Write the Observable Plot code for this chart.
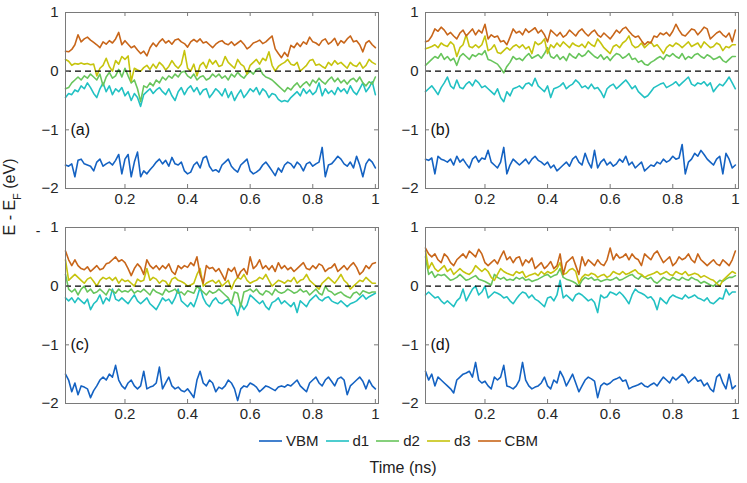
<!DOCTYPE html>
<html>
<head>
<meta charset="utf-8">
<script src="https://cdn.jsdelivr.net/npm/d3@7"></script>
<script src="https://cdn.jsdelivr.net/npm/@observablehq/plot@0.6"></script>
<style>
  body { margin: 0; background: #fff; }
  #wrap { position: relative; width: 747px; height: 483px; font-family: 'Liberation Sans', Arial, sans-serif; }
  .pnl { position: absolute; }
  #legend { position: absolute; left: 259px; top: 432px; display: flex; align-items: center; font-size: 15px; color: #222; }
  #legend .it { display: flex; align-items: center; margin-right: 7px; }
  #legend svg { margin-right: 4px; }
  #xlab { position: absolute; left: 0; width: 806px; top: 459px; text-align: center; font-size: 16px; color: #222; }
  #overlay { position: absolute; left: 0; top: 0; pointer-events: none; }
</style>
</head>
<body>
<div id="wrap"></div>
<script>
// ---------- data ----------
const times = d3.range(1, 101).map(k => k / 100); // time grid, ns
const seriesNames = ["VBM", "d1", "d2", "d3", "CBM"];
const seriesColors = ["#1462c2", "#22c1c3", "#68c55c", "#c6c40e", "#c8661a"];
const xTicks = [0.2, 0.4, 0.6, 0.8, 1];
const yTicks = [-2, -1, 0, 1];
const panelLabels = ["(a)", "(b)", "(c)", "(d)"];

// panel (a)
const vbmA = [-1.60,-1.62,-1.58,-1.80,-1.52,-1.50,-1.58,-1.60,-1.62,-1.70,
  -1.55,-1.50,-1.62,-1.58,-1.55,-1.60,-1.52,-1.42,-1.75,-1.50,
  -1.42,-1.80,-1.55,-1.38,-1.80,-1.70,-1.75,-1.68,-1.62,-1.55,
  -1.50,-1.58,-1.52,-1.62,-1.47,-1.58,-1.60,-1.55,-1.70,-1.75,
  -1.72,-1.60,-1.55,-1.65,-1.48,-1.45,-1.62,-1.70,-1.68,-1.72,
  -1.60,-1.55,-1.50,-1.62,-1.68,-1.72,-1.60,-1.55,-1.50,-1.70,
  -1.75,-1.72,-1.68,-1.60,-1.55,-1.62,-1.70,-1.78,-1.65,-1.72,
  -1.60,-1.55,-1.58,-1.65,-1.55,-1.60,-1.70,-1.58,-1.55,-1.62,
  -1.58,-1.55,-1.30,-1.80,-1.60,-1.58,-1.52,-1.45,-1.50,-1.58,
  -1.62,-1.55,-1.65,-1.45,-1.60,-1.80,-1.58,-1.50,-1.55,-1.65];
const d1A = [-0.45,-0.38,-0.40,-0.32,-0.35,-0.25,-0.30,-0.20,-0.28,-0.38,
  -0.45,-0.30,-0.20,-0.35,-0.25,-0.40,-0.30,-0.35,-0.28,-0.42,
  -0.35,-0.50,-0.38,-0.45,-0.60,-0.40,-0.35,-0.30,-0.38,-0.32,
  -0.28,-0.35,-0.40,-0.30,-0.42,-0.50,-0.35,-0.28,-0.40,-0.30,
  -0.25,-0.35,-0.28,-0.40,-0.32,-0.30,-0.45,-0.38,-0.30,-0.35,
  -0.42,-0.30,-0.45,-0.35,-0.50,-0.40,-0.32,-0.45,-0.38,-0.30,
  -0.35,-0.28,-0.40,-0.30,-0.35,-0.45,-0.38,-0.40,-0.48,-0.52,
  -0.50,-0.52,-0.45,-0.40,-0.35,-0.42,-0.30,-0.38,-0.32,-0.40,
  -0.35,-0.20,-0.42,-0.30,-0.38,-0.33,-0.40,-0.28,-0.35,-0.30,
  -0.38,-0.25,-0.35,-0.40,-0.30,-0.20,-0.35,-0.28,-0.18,-0.40];
const d2A = [-0.30,-0.28,-0.20,-0.15,-0.10,-0.15,-0.08,-0.12,-0.05,-0.10,
  -0.15,-0.05,-0.25,-0.10,-0.02,-0.12,-0.08,0.03,-0.10,0.05,
  -0.08,-0.20,-0.15,-0.30,-0.52,-0.25,-0.28,-0.20,-0.25,-0.15,
  -0.20,-0.10,-0.15,-0.08,-0.12,-0.05,-0.10,-0.02,0.00,-0.08,
  -0.12,-0.05,-0.15,-0.10,-0.08,-0.15,-0.12,-0.05,-0.10,-0.05,
  -0.12,-0.08,-0.15,-0.05,-0.10,-0.02,-0.08,-0.12,-0.05,0.00,
  -0.05,0.03,0.05,-0.05,-0.10,-0.12,-0.15,-0.20,-0.25,-0.30,
  -0.35,-0.28,-0.32,-0.25,-0.20,-0.28,-0.22,-0.18,-0.25,-0.15,
  -0.20,-0.12,-0.18,-0.22,-0.15,-0.10,-0.18,-0.12,-0.20,-0.15,
  -0.22,-0.15,-0.12,-0.18,-0.10,-0.20,-0.25,-0.18,-0.22,-0.10];
const d3A = [0.20,0.17,0.10,0.13,0.12,0.14,0.12,0.13,0.11,0.12,
  -0.08,0.05,0.10,0.22,0.08,0.00,0.18,0.12,0.25,0.20,
  0.26,-0.17,0.05,0.02,0.00,0.06,0.10,0.03,0.12,0.05,
  0.15,0.10,0.02,0.08,0.18,0.10,0.05,0.12,0.35,0.05,
  0.00,0.12,-0.08,0.10,0.15,0.05,0.20,0.12,0.18,0.08,
  0.10,0.25,0.15,0.10,0.05,0.20,0.12,0.08,-0.05,0.10,
  0.15,0.20,0.12,0.22,0.18,0.33,0.10,0.00,0.08,0.12,
  0.15,0.20,0.12,0.10,0.15,0.00,0.05,0.10,0.18,0.20,
  0.10,0.12,0.08,0.05,0.15,0.10,0.18,0.12,0.15,0.10,
  0.05,0.15,0.10,0.08,0.15,0.05,0.10,0.20,0.15,0.12];
const cbmA = [0.34,0.33,0.37,0.45,0.62,0.50,0.55,0.58,0.53,0.49,
  0.45,0.40,0.50,0.46,0.52,0.48,0.55,0.66,0.45,0.52,
  0.46,0.40,0.43,0.36,0.30,0.34,0.26,0.40,0.48,0.42,
  0.50,0.55,0.48,0.52,0.46,0.53,0.55,0.50,0.47,0.41,
  0.50,0.54,0.50,0.55,0.48,0.50,0.45,0.40,0.46,0.50,
  0.52,0.47,0.45,0.50,0.44,0.48,0.52,0.46,0.38,0.42,
  0.48,0.50,0.53,0.47,0.50,0.55,0.60,0.38,0.30,0.23,
  0.32,0.25,0.44,0.40,0.48,0.42,0.50,0.46,0.58,0.50,
  0.48,0.44,0.52,0.55,0.46,0.50,0.56,0.44,0.52,0.48,
  0.55,0.60,0.50,0.52,0.45,0.33,0.48,0.52,0.45,0.40];

// panel (b)
const vbmB = [-1.50,-1.52,-1.48,-1.75,-1.45,-1.50,-1.52,-1.55,-1.50,-1.60,
  -1.45,-1.55,-1.50,-1.58,-1.65,-1.50,-1.45,-1.55,-1.48,-1.50,
  -1.35,-1.55,-1.60,-1.65,-1.55,-1.30,-1.75,-1.60,-1.50,-1.55,
  -1.60,-1.55,-1.50,-1.58,-1.50,-1.45,-1.52,-1.55,-1.60,-1.55,
  -1.65,-1.60,-1.70,-1.65,-1.60,-1.55,-1.62,-1.50,-1.45,-1.55,
  -1.60,-1.40,-1.55,-1.65,-1.35,-1.65,-1.55,-1.50,-1.60,-1.55,
  -1.62,-1.58,-1.50,-1.55,-1.45,-1.60,-1.55,-1.65,-1.60,-1.55,
  -1.70,-1.65,-1.60,-1.62,-1.55,-1.58,-1.50,-1.55,-1.52,-1.45,
  -1.50,-1.48,-1.25,-1.75,-1.55,-1.50,-1.40,-1.45,-1.35,-1.42,
  -1.50,-1.55,-1.60,-1.50,-1.45,-1.75,-1.40,-1.50,-1.65,-1.60];
const d1B = [-0.35,-0.30,-0.25,-0.32,-0.40,-0.28,-0.20,-0.10,-0.25,-0.30,
  -0.15,-0.28,-0.30,-0.22,-0.18,-0.25,-0.15,-0.20,-0.28,-0.25,
  -0.30,-0.35,-0.40,-0.30,-0.45,-0.52,-0.35,-0.42,-0.30,-0.28,
  -0.25,-0.30,-0.22,-0.20,-0.25,-0.12,-0.25,-0.30,-0.35,-0.25,
  -0.45,-0.30,-0.28,-0.25,-0.20,-0.30,-0.25,-0.22,-0.15,-0.20,
  -0.28,-0.25,-0.30,-0.22,-0.30,-0.28,-0.35,-0.45,-0.30,-0.25,
  -0.22,-0.30,-0.25,-0.20,-0.15,-0.22,-0.30,-0.25,-0.35,-0.40,
  -0.45,-0.42,-0.35,-0.28,-0.25,-0.22,-0.20,-0.28,-0.25,-0.22,
  -0.18,-0.25,-0.20,-0.15,-0.10,-0.22,-0.25,-0.20,-0.22,-0.18,
  -0.25,-0.20,-0.35,-0.28,-0.22,-0.25,-0.18,-0.10,-0.20,-0.30];
const d2B = [0.10,0.15,0.20,0.25,0.22,0.30,0.20,0.25,0.18,0.22,
  0.10,0.25,0.30,0.25,0.20,0.28,0.25,0.30,0.28,0.35,
  0.20,0.18,0.15,0.12,0.05,-0.03,0.08,0.15,0.25,0.20,
  0.22,0.18,0.25,0.30,0.22,0.25,0.28,0.22,0.30,0.40,
  0.25,0.22,0.28,0.20,0.25,0.18,0.30,0.25,0.22,0.30,
  0.25,0.28,0.35,0.30,0.25,0.22,0.28,0.20,0.25,0.18,
  0.25,0.30,0.28,0.22,0.25,0.30,0.20,0.22,0.15,0.18,
  0.12,0.10,0.15,0.18,0.22,0.25,0.20,0.28,0.25,0.30,
  0.25,0.22,0.30,0.20,0.25,0.22,0.28,0.30,0.25,0.22,
  0.28,0.25,0.20,0.22,0.25,0.18,0.15,0.20,0.25,0.25];
const d3B = [0.38,0.40,0.42,0.45,0.40,0.48,0.44,0.42,0.50,0.45,
  0.25,0.40,0.45,0.62,0.42,0.40,0.45,0.40,0.45,0.60,
  0.35,0.38,0.45,0.32,0.30,0.35,0.40,0.36,0.42,0.45,
  0.40,0.45,0.38,0.42,0.30,0.50,0.45,0.48,0.55,0.30,
  0.45,0.40,0.48,0.42,0.50,0.45,0.40,0.48,0.44,0.42,
  0.46,0.40,0.50,0.45,0.42,0.55,0.48,0.40,0.35,0.30,
  0.42,0.45,0.40,0.48,0.52,0.60,0.45,0.40,0.42,0.48,
  0.40,0.45,0.50,0.42,0.45,0.38,0.30,0.40,0.45,0.42,
  0.48,0.45,0.40,0.45,0.50,0.42,0.45,0.48,0.40,0.50,
  0.45,0.40,0.42,0.48,0.45,0.35,0.42,0.40,0.45,0.45];
const cbmB = [0.50,0.52,0.60,0.72,0.68,0.75,0.70,0.62,0.66,0.60,
  0.55,0.65,0.70,0.60,0.66,0.72,0.62,0.70,0.65,0.80,
  0.55,0.62,0.58,0.60,0.50,0.52,0.45,0.58,0.72,0.65,
  0.68,0.62,0.72,0.66,0.70,0.74,0.65,0.70,0.62,0.50,
  0.70,0.65,0.60,0.66,0.58,0.62,0.70,0.65,0.60,0.68,
  0.72,0.65,0.60,0.66,0.70,0.62,0.58,0.65,0.60,0.55,
  0.62,0.70,0.65,0.72,0.75,0.68,0.62,0.58,0.60,0.52,
  0.45,0.50,0.48,0.60,0.58,0.65,0.62,0.66,0.60,0.68,
  0.80,0.70,0.62,0.60,0.66,0.72,0.70,0.62,0.68,0.75,
  0.72,0.55,0.60,0.65,0.68,0.62,0.58,0.65,0.50,0.70];

// panel (c)
const vbmC = [-1.50,-1.60,-1.80,-1.65,-1.85,-1.70,-1.72,-1.75,-1.90,-1.78,
  -1.70,-1.60,-1.55,-1.60,-1.50,-1.55,-1.35,-1.60,-1.70,-1.75,
  -1.65,-1.60,-1.70,-1.75,-1.70,-1.45,-1.75,-1.72,-1.70,-1.65,
  -1.38,-1.75,-1.65,-1.55,-1.70,-1.75,-1.72,-1.78,-1.80,-1.75,
  -1.82,-1.90,-1.60,-1.45,-1.65,-1.70,-1.60,-1.65,-1.80,-1.72,
  -1.75,-1.70,-1.60,-1.65,-1.75,-1.95,-1.75,-1.70,-1.72,-1.65,
  -1.68,-1.72,-1.80,-1.75,-1.70,-1.72,-1.75,-1.78,-1.72,-1.70,
  -1.72,-1.68,-1.70,-1.65,-1.60,-1.70,-1.75,-1.80,-1.65,-1.60,
  -1.55,-1.65,-1.70,-1.60,-1.55,-1.62,-1.70,-1.58,-1.55,-1.60,
  -1.85,-1.70,-1.65,-1.60,-1.55,-1.62,-1.75,-1.60,-1.70,-1.75];
const d1C = [-0.20,-0.25,-0.20,-0.28,-0.20,-0.25,-0.30,-0.22,-0.40,-0.30,
  -0.25,-0.15,-0.30,-0.20,-0.25,-0.05,-0.22,-0.25,-0.20,-0.25,
  -0.30,-0.22,-0.15,-0.25,-0.30,-0.25,-0.20,-0.30,-0.35,-0.40,
  -0.30,-0.20,-0.25,-0.22,-0.30,-0.20,-0.05,-0.25,-0.30,-0.35,
  -0.28,-0.35,-0.20,-0.02,-0.20,-0.30,-0.35,-0.25,-0.20,-0.28,
  -0.30,-0.25,-0.22,-0.30,-0.35,-0.50,-0.30,-0.40,-0.32,-0.15,
  -0.20,-0.25,-0.30,-0.25,-0.35,-0.40,-0.28,-0.25,-0.20,-0.30,
  -0.25,-0.30,-0.35,-0.28,-0.45,-0.25,-0.30,-0.35,-0.25,-0.20,
  -0.15,-0.22,-0.25,-0.20,-0.18,-0.25,-0.28,-0.30,-0.25,-0.30,
  -0.35,-0.30,-0.28,-0.25,-0.20,-0.15,-0.22,-0.18,-0.15,-0.12];
const d2C = [0.20,-0.05,-0.10,-0.05,-0.15,-0.05,0.00,-0.10,-0.05,-0.12,
  -0.10,-0.05,-0.10,-0.15,-0.05,-0.08,-0.12,-0.05,-0.10,-0.08,
  -0.10,-0.05,-0.12,-0.08,-0.10,-0.05,-0.10,-0.15,-0.05,-0.10,
  -0.12,-0.15,-0.05,-0.10,-0.08,-0.05,-0.12,-0.10,-0.15,-0.08,
  -0.10,-0.12,0.00,-0.05,-0.10,-0.15,-0.08,-0.12,-0.10,-0.05,
  -0.10,-0.15,-0.20,-0.30,-0.10,-0.12,-0.35,-0.10,-0.08,-0.05,
  -0.10,-0.05,-0.12,-0.15,-0.08,-0.10,-0.15,-0.05,-0.10,-0.12,
  -0.10,-0.05,-0.08,-0.12,-0.10,-0.05,-0.10,-0.08,-0.15,-0.10,
  -0.05,-0.12,-0.15,0.00,-0.08,-0.10,-0.15,-0.12,-0.10,-0.15,
  -0.18,-0.20,-0.12,-0.10,-0.15,-0.08,-0.10,-0.12,-0.10,-0.10];
const d3C = [0.45,0.10,0.15,0.20,0.15,0.10,0.05,0.12,0.15,0.08,
  0.00,0.10,0.15,0.12,0.15,0.10,0.15,0.05,0.12,0.08,
  0.10,0.05,0.00,0.12,0.08,0.10,0.30,0.10,0.15,0.12,
  0.05,0.10,0.08,0.00,0.12,0.15,0.10,0.08,0.05,0.00,
  0.02,0.05,0.20,0.30,0.00,0.05,0.08,0.10,0.05,0.10,
  0.00,0.05,0.10,-0.05,0.08,0.15,0.12,0.20,0.10,0.05,
  0.08,0.10,0.15,0.12,0.20,0.10,0.00,0.05,0.10,0.08,
  0.05,0.10,0.08,0.15,0.05,0.10,0.12,0.20,0.10,0.05,
  0.00,-0.05,0.05,0.10,0.15,0.10,0.05,0.12,0.20,0.10,
  0.05,-0.05,0.00,0.05,0.10,0.08,0.15,0.10,0.05,0.05];
const cbmC = [0.60,0.45,0.35,0.45,0.35,0.30,0.28,0.33,0.25,0.30,
  0.35,0.28,0.30,0.38,0.40,0.45,0.50,0.42,0.45,0.40,
  0.30,0.18,0.30,0.38,0.32,0.20,0.45,0.35,0.30,0.35,
  0.28,0.35,0.30,0.38,0.25,0.20,0.35,0.30,0.35,0.32,
  0.40,0.35,0.50,0.20,0.05,0.35,0.30,0.32,0.25,0.30,
  0.20,0.10,0.30,0.25,0.32,0.15,0.25,0.30,0.20,0.50,
  0.30,0.35,0.45,0.30,0.35,0.28,0.35,0.25,0.40,0.30,
  0.35,0.28,0.32,0.25,0.30,0.35,0.40,0.30,0.28,0.35,
  0.30,0.38,0.35,0.25,0.30,0.32,0.38,0.25,0.30,0.35,
  0.28,0.35,0.40,0.32,0.20,0.25,0.35,0.30,0.38,0.40];

// panel (d)
const vbmD = [-1.45,-1.60,-1.50,-1.70,-1.55,-1.60,-1.65,-1.70,-1.75,-1.82,
  -1.60,-1.55,-1.50,-1.48,-1.45,-1.55,-1.30,-1.60,-1.65,-1.62,
  -1.70,-1.75,-1.55,-1.60,-1.55,-1.35,-1.70,-1.72,-1.75,-1.70,
  -1.60,-1.30,-1.60,-1.70,-1.75,-1.72,-1.70,-1.65,-1.55,-1.70,
  -1.75,-1.60,-1.65,-1.45,-1.55,-1.70,-1.60,-1.50,-1.65,-1.80,
  -1.70,-1.60,-1.55,-1.58,-1.62,-1.90,-1.70,-1.65,-1.68,-1.65,
  -1.60,-1.58,-1.55,-1.62,-1.60,-1.75,-1.72,-1.70,-1.68,-1.65,
  -1.70,-1.72,-1.68,-1.65,-1.70,-1.62,-1.55,-1.60,-1.65,-1.55,
  -1.60,-1.55,-1.50,-1.55,-1.65,-1.60,-1.55,-1.62,-1.60,-1.70,
  -1.65,-1.75,-1.80,-1.55,-1.50,-1.65,-1.75,-1.50,-1.75,-1.70];
const d1D = [-0.15,-0.10,-0.15,-0.20,-0.18,-0.25,-0.30,-0.25,-0.30,-0.35,
  -0.25,-0.20,-0.05,-0.25,-0.15,-0.05,0.00,-0.15,-0.10,0.00,
  -0.20,-0.15,-0.10,-0.12,-0.15,-0.20,-0.18,-0.25,-0.30,-0.22,
  -0.15,-0.10,-0.12,-0.20,-0.15,-0.22,-0.25,-0.30,-0.35,-0.20,
  -0.18,-0.25,-0.15,0.10,-0.20,-0.15,-0.20,-0.25,-0.15,-0.12,
  -0.15,-0.20,-0.25,-0.22,-0.28,-0.45,-0.15,-0.20,-0.18,-0.10,
  -0.12,-0.15,-0.10,-0.15,-0.22,-0.30,-0.15,-0.05,-0.10,-0.12,
  -0.15,-0.20,-0.18,-0.25,-0.40,-0.20,-0.25,-0.30,-0.20,-0.15,
  -0.18,-0.20,-0.22,-0.15,-0.20,-0.18,-0.15,-0.20,-0.22,-0.25,
  -0.20,-0.28,-0.30,-0.25,-0.20,-0.22,-0.05,-0.15,-0.10,-0.10];
const d2D = [0.50,0.20,0.25,0.15,0.20,0.18,0.20,0.15,0.10,0.12,
  0.15,0.20,0.15,0.10,0.12,0.15,0.18,0.12,0.10,0.08,
  0.05,0.02,0.20,0.15,0.12,0.15,0.10,0.12,0.10,0.15,
  0.12,0.15,0.10,0.12,0.08,0.10,0.12,0.15,0.18,0.20,
  0.15,0.18,0.20,0.30,0.15,0.12,0.10,0.08,0.05,0.00,
  0.10,0.15,0.12,0.15,0.10,0.12,0.08,0.10,0.12,0.10,
  0.12,0.15,0.10,0.12,0.15,0.18,0.20,0.15,0.12,0.18,
  0.15,0.12,0.15,0.08,0.05,0.10,0.15,0.12,0.10,0.15,
  0.12,0.10,0.15,0.12,0.10,0.15,0.12,0.10,0.05,0.08,
  0.05,0.02,0.00,0.05,0.10,0.08,0.12,0.15,0.15,0.18];
const d3D = [0.60,0.30,0.40,0.30,0.25,0.30,0.35,0.25,0.30,0.20,
  0.25,0.30,0.25,0.22,0.20,0.25,0.35,0.30,0.25,0.30,
  0.25,0.15,0.10,0.20,0.30,0.25,0.22,0.20,0.18,0.25,
  0.22,0.25,0.15,0.18,0.20,0.22,0.18,0.25,0.20,0.25,
  0.22,0.25,0.30,0.40,0.20,0.22,0.28,0.30,0.25,0.05,
  0.15,0.20,0.18,0.22,0.20,0.15,0.18,0.20,0.15,0.18,
  0.25,0.22,0.20,0.25,0.20,0.22,0.25,0.28,0.22,0.20,
  0.15,0.18,0.20,0.22,0.25,0.20,0.22,0.25,0.20,0.18,
  0.25,0.22,0.20,0.25,0.18,0.20,0.22,0.20,0.15,0.18,
  0.15,0.12,0.10,0.05,0.00,0.10,0.15,0.20,0.25,0.22];
const cbmD = [0.65,0.55,0.50,0.55,0.45,0.40,0.55,0.50,0.40,0.35,
  0.45,0.50,0.55,0.48,0.60,0.55,0.50,0.63,0.55,0.40,
  0.35,0.40,0.45,0.38,0.50,0.60,0.45,0.50,0.40,0.48,
  0.50,0.35,0.45,0.40,0.48,0.30,0.35,0.40,0.30,0.35,
  0.42,0.30,0.35,0.55,0.20,0.40,0.45,0.50,0.35,0.20,
  0.50,0.35,0.45,0.40,0.35,0.45,0.38,0.35,0.45,0.65,
  0.45,0.55,0.48,0.50,0.55,0.45,0.55,0.48,0.45,0.35,
  0.55,0.50,0.45,0.55,0.60,0.50,0.40,0.45,0.50,0.35,
  0.40,0.50,0.45,0.48,0.55,0.45,0.40,0.55,0.45,0.40,
  0.35,0.40,0.45,0.38,0.35,0.45,0.40,0.35,0.45,0.60];

const panels = [
  [vbmA, d1A, d2A, d3A, cbmA],
  [vbmB, d1B, d2B, d3B, cbmB],
  [vbmC, d1C, d2C, d3C, cbmC],
  [vbmD, d1D, d2D, d3D, cbmD]
];

// ---------- drawing ----------
const X0 = 0.01, X1 = 1.01, Y0 = -2, Y1 = 1;
const PW = 313, PH = 176;
const tickLenY = 4 * (Y1 - Y0) / PH;
const tickLenX = 4 * (X1 - X0) / PW;
const axisCol = "#7a7a7a";

function panel(label, series, ml) {
  return Plot.plot({
    width: ml + PW + 6, height: 215,
    marginLeft: ml, marginRight: 6, marginTop: 12, marginBottom: 27,
    x: {domain: [X0, X1]}, y: {domain: [Y0, Y1]},
    style: {fontFamily: "'Liberation Sans', Arial, sans-serif", fontSize: "15px", color: "#262626", background: "transparent", overflow: "visible"},
    marks: [
      ...series.map((vals, i) => Plot.line(vals, {x: (d, j) => times[j], y: d => d, stroke: seriesColors[i], strokeWidth: 1.6})),
      Plot.ruleY([0], {stroke: "#000", strokeWidth: 1.4, strokeDasharray: "6,4"}),
      Plot.frame({stroke: axisCol, strokeWidth: 1}),
      Plot.ruleX(xTicks, {y1: Y1, y2: Y1 - tickLenY, stroke: axisCol}),
      Plot.ruleX(xTicks, {y1: Y0, y2: Y0 + tickLenY, stroke: axisCol}),
      Plot.ruleY(yTicks, {x1: X0, x2: X0 + tickLenX, stroke: axisCol}),
      Plot.ruleY(yTicks, {x1: X1 - tickLenX, x2: X1, stroke: axisCol}),
      Plot.axisX(xTicks, {tickSize: 0, tickPadding: 5, tickFormat: d => String(d), fontSize: 15, label: null}),
      Plot.axisY(yTicks, {tickSize: 0, tickPadding: 7, tickFormat: d => d < 0 ? "\u2212" + (-d) : String(d), fontSize: 15, label: null}),
      Plot.text([label], {x: X0, y: -1, dx: 5, text: d => d, textAnchor: "start", fontSize: 16, fill: "#111", lineAnchor: "middle"})
    ]
  });
}

const wrap = document.getElementById("wrap");
const pos = [[0, 0, 65], [375, 0, 50], [0, 215, 65], [375, 215, 50]];
panels.forEach((s, i) => {
  const el = panel(panelLabels[i], s, pos[i][2]);
  el.classList.add("pnl");
  el.style.left = pos[i][0] + "px";
  el.style.top = pos[i][1] + "px";
  wrap.appendChild(el);
});

// legend
const lg = document.createElement("div");
lg.id = "legend";
seriesNames.forEach((n, i) => {
  const it = document.createElement("div");
  it.className = "it";
  it.innerHTML = `<svg width="23" height="10"><line x1="0" x2="23" y1="5" y2="5" stroke="${seriesColors[i]}" stroke-width="1.6"/></svg><span>${n}</span>`;
  lg.appendChild(it);
});
wrap.appendChild(lg);

const xl = document.createElement("div");
xl.id = "xlab";
xl.textContent = "Time (ns)";
wrap.appendChild(xl);

// y label overlay
const ns = "http://www.w3.org/2000/svg";
const ov = document.createElementNS(ns, "svg");
ov.setAttribute("id", "overlay");
ov.setAttribute("width", 747); ov.setAttribute("height", 483);
ov.innerHTML = `<text transform="translate(15,197) rotate(-90)" text-anchor="middle" font-family="'Liberation Sans', Arial, sans-serif" font-size="16" fill="#222">E - E<tspan baseline-shift="sub" font-size="11">F</tspan><tspan> (eV)</tspan></text>
<text x="38" y="236" text-anchor="middle" font-family="'Liberation Sans', Arial, sans-serif" font-size="14" fill="#222">-</text>`;
wrap.appendChild(ov);
</script>
</body>
</html>
